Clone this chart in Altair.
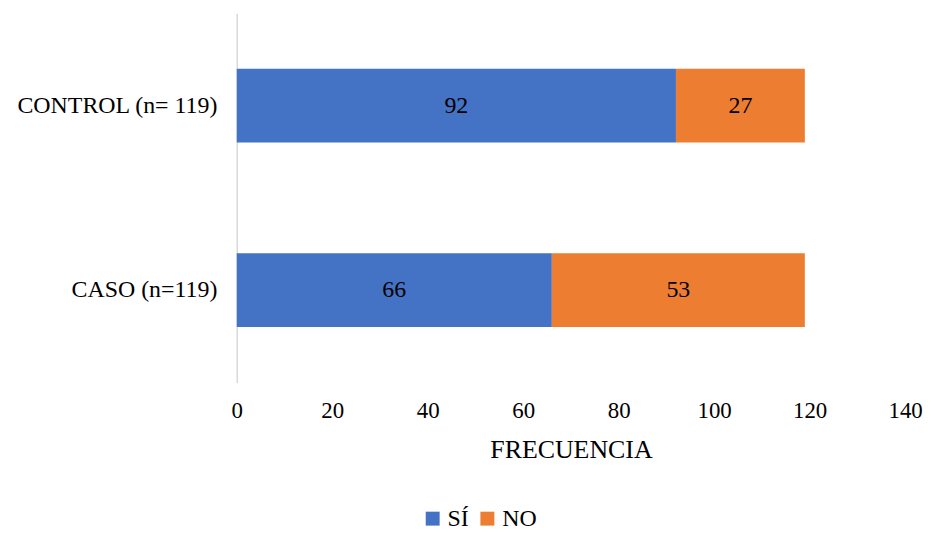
import altair as alt
import pandas as pd

groups = ["CONTROL (n= 119)", "CASO (n=119)"]
si_values = [92, 66]
no_values = [27, 53]
series = ["SÍ", "NO"]
colors = ["#4472C4", "#ED7D31"]

rows = []
for g, s, n in zip(groups, si_values, no_values):
    rows.append({"grupo": g, "serie": "SÍ", "valor": s, "orden": 0})
    rows.append({"grupo": g, "serie": "NO", "valor": n, "orden": 1})
df = pd.DataFrame(rows)

font = "Liberation Serif"

base = alt.Chart(df).encode(
    y=alt.Y("grupo:N", sort=groups, title=None,
            scale=alt.Scale(paddingInner=0.6, paddingOuter=0.3),
            axis=alt.Axis(labelFont=font, labelFontSize=24, labelColor="#000000",
                          ticks=False, domainColor="#D9D9D9", domainWidth=1.5,
                          labelPadding=20, labelLimit=400)),
    x=alt.X("sum(valor):Q", title="FRECUENCIA",
            scale=alt.Scale(domain=[0, 140]),
            axis=alt.Axis(values=list(range(0, 141, 20)), grid=False, domain=False, ticks=False,
                          labelFlush=False,
                          labelFont=font, labelFontSize=23, labelColor="#000000",
                          titleFont=font, titleFontSize=26, titleFontWeight="normal",
                          titleColor="#000000", labelPadding=17, titlePadding=15)),
    order=alt.Order("orden:Q"),
)

bars = base.mark_bar().encode(
    color=alt.Color("serie:N", sort=series,
                    scale=alt.Scale(domain=series, range=colors),
                    legend=alt.Legend(title=None, orient="none", direction="horizontal",
                                      legendX=185, legendY=496,
                                      symbolType="square", symbolSize=196,
                                      labelFont=font, labelFontSize=24, labelColor="#000000",
                                      labelOffset=3, columnPadding=6, symbolStrokeWidth=0)),
)

labels = alt.Chart(df).mark_text(font=font, fontSize=24, color="#000000").encode(
    y=alt.Y("grupo:N", sort=groups),
    x=alt.X("mid:Q"),
    text=alt.Text("valor:Q"),
).transform_stack(
    stack="valor", groupby=["grupo"], as_=["x0", "x1"], sort=[alt.SortField("orden")]
).transform_calculate(mid="(datum.x0 + datum.x1) / 2")

chart = alt.layer(bars, labels).properties(
    width=672, height=371, background="#ffffff",
    padding={"left": 8, "top": 4, "right": 0, "bottom": 0}
).configure(
    font=font,
    view=alt.ViewConfig(stroke=None),
    text=alt.MarkConfig(font=font),
    legend=alt.LegendConfig(labelFont=font),
)

chart.save("out.html", embed_options={"renderer": "svg", "actions": False})
